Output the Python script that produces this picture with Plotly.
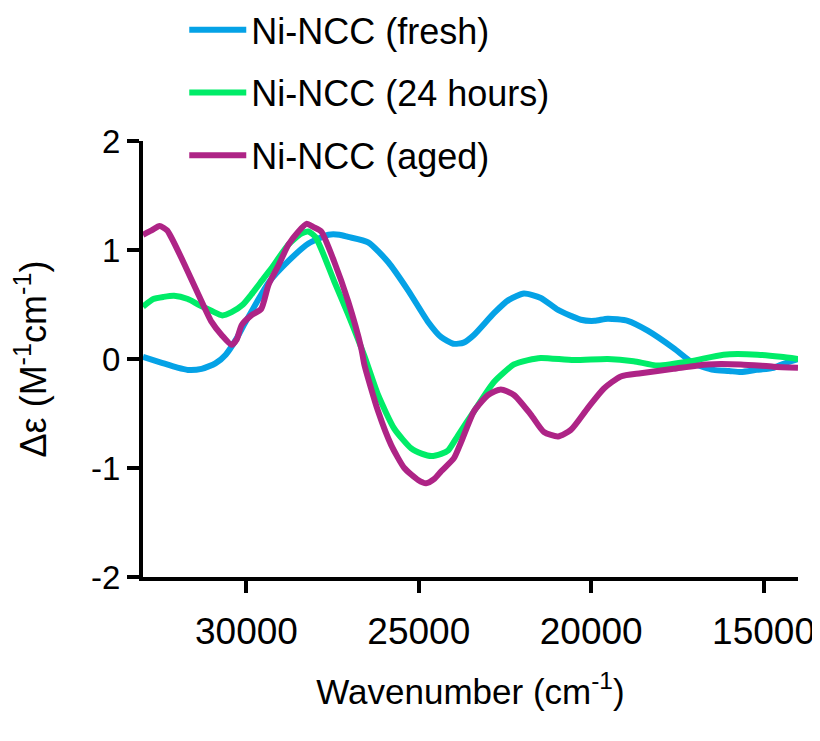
import plotly.graph_objects as go

# Wavenumber (cm^-1) and Δε (M^-1 cm^-1) values
fresh_x = [33000, 32500, 32000, 31700, 31300, 30900, 30600, 30300, 30060, 29700, 29360,
           28780, 28200, 27620, 27300, 27050, 26470, 25890, 25310, 24730, 24350, 24000,
           23700, 23400, 22820, 22400, 21950, 21460, 20960, 20300, 19900, 19520, 18940,
           18360, 17610, 17030, 16450, 16000, 15660, 15200, 14710, 14300, 14000]
fresh_y = [0.02, -0.03, -0.08, -0.10, -0.09, -0.04, 0.04, 0.18, 0.32, 0.52, 0.70,
           0.90, 1.06, 1.14, 1.14, 1.12, 1.07, 0.89, 0.63, 0.34, 0.20, 0.14,
           0.15, 0.22, 0.42, 0.54, 0.60, 0.56, 0.45, 0.36, 0.35, 0.37, 0.35,
           0.26, 0.10, -0.04, -0.10, -0.11, -0.12, -0.10, -0.08, -0.03, 0.0]

h24_x = [33000, 32700, 32400, 32100, 31700, 31400, 31000, 30700, 30430, 30100, 29860,
         29500, 29280, 28780, 28410, 28200, 28000, 27830, 27450, 27050, 26580, 26180,
         25710, 25220, 24900, 24640, 24350, 24150, 23860, 23400, 22820, 22240, 21830,
         21460, 20500, 19520, 18770, 18070, 17110, 16160, 15170, 14500, 14000]
h24_y = [0.48, 0.55, 0.57, 0.58, 0.55, 0.50, 0.44, 0.40, 0.43, 0.50, 0.59,
         0.74, 0.83, 1.05, 1.15, 1.17, 1.12, 1.01, 0.71, 0.41, 0.03, -0.33,
         -0.64, -0.82, -0.87, -0.89, -0.87, -0.84, -0.70, -0.48, -0.21, -0.05, -0.01,
         0.01, -0.01, 0.0, -0.02, -0.06, -0.02, 0.04, 0.04, 0.02, 0.0]

aged_x = [33000, 32750, 32520, 32300, 32170, 31800, 31390, 31010, 30720, 30430, 30280,
          30140, 29860, 29570, 29360, 29070, 28780, 28490, 28260, 28050, 27830, 27450,
          27050, 26670, 26580, 26180, 25800, 25420, 25020, 24790, 24550, 24350, 23980,
          23770, 23400, 22990, 22620, 22240, 21750, 21370, 20960, 20590, 20100, 19630,
          19140, 18560, 17610, 16630, 15660, 14710, 14000]
aged_y = [1.14, 1.18, 1.22, 1.18, 1.11, 0.87, 0.59, 0.34, 0.22, 0.13, 0.18,
          0.31, 0.40, 0.46, 0.68, 0.86, 1.05, 1.17, 1.24, 1.21, 1.17, 0.89,
          0.53, 0.10, -0.05, -0.48, -0.79, -1.00, -1.11, -1.14, -1.10, -1.03, -0.91,
          -0.76, -0.48, -0.33, -0.28, -0.33, -0.51, -0.67, -0.71, -0.65, -0.45, -0.27,
          -0.16, -0.13, -0.09, -0.05, -0.05, -0.07, -0.08]

series_names = ["Ni-NCC (fresh)", "Ni-NCC (24 hours)", "Ni-NCC (aged)"]
series_colors = ["#05A2E6", "#00EC68", "#AE2486"]

x_ticks = [30000, 25000, 20000, 15000]
x_ticklabels = ["30000", "25000", "20000", "15000"]
y_ticks = [-2, -1, 0, 1, 2]
y_ticklabels = ["-2", "-1", "0", "1", "2"]

FONT = "Arial, Liberation Sans, Helvetica, sans-serif"

fig = go.Figure()
for name, xs, ys, col in zip(series_names, [fresh_x, h24_x, aged_x],
                             [fresh_y, h24_y, aged_y], series_colors):
    fig.add_trace(go.Scatter(x=xs, y=ys, mode="lines", name=name, legendgroup=name,
                             line=dict(color=col, width=6, shape="spline", smoothing=0.6)))

# the page body adds an 8px margin, so the figure is sized to fit the window
fig.update_layout(
    width=812, height=733,
    margin=dict(l=135, r=22, t=133, b=164, autoexpand=False),
    paper_bgcolor="white", plot_bgcolor="white",
    font=dict(family=FONT, color="black", size=32),
    showlegend=True,
    legend=dict(x=0.063, xanchor="left", y=1.324, yanchor="top",
                bgcolor="rgba(0,0,0,0)", borderwidth=0,
                font=dict(size=36, family=FONT), tracegroupgap=13,
                itemwidth=57),
    xaxis=dict(range=[33000, 14000], tickvals=x_ticks, ticktext=x_ticklabels,
               showline=True, linewidth=4, linecolor="black", mirror=False,
               ticks="outside", ticklen=12, tickwidth=4, tickcolor="black",
               showgrid=False, zeroline=False, tickfont=dict(size=37),
               ticklabelstandoff=7,
               title=dict(text="Wavenumber (cm<sup>-1</sup>)", font=dict(size=35), standoff=29)),
    yaxis=dict(range=[-2, 2], tickvals=y_ticks, ticktext=y_ticklabels,
               showline=True, linewidth=4, linecolor="black",
               ticks="outside", ticklen=12, tickwidth=4, tickcolor="black",
               showgrid=False, zeroline=False, tickfont=dict(size=33),
               title=dict(text="Δε (M<sup>-1</sup>cm<sup>-1</sup>)", font=dict(size=36), standoff=42)),
)

fig.write_html("out.html")
